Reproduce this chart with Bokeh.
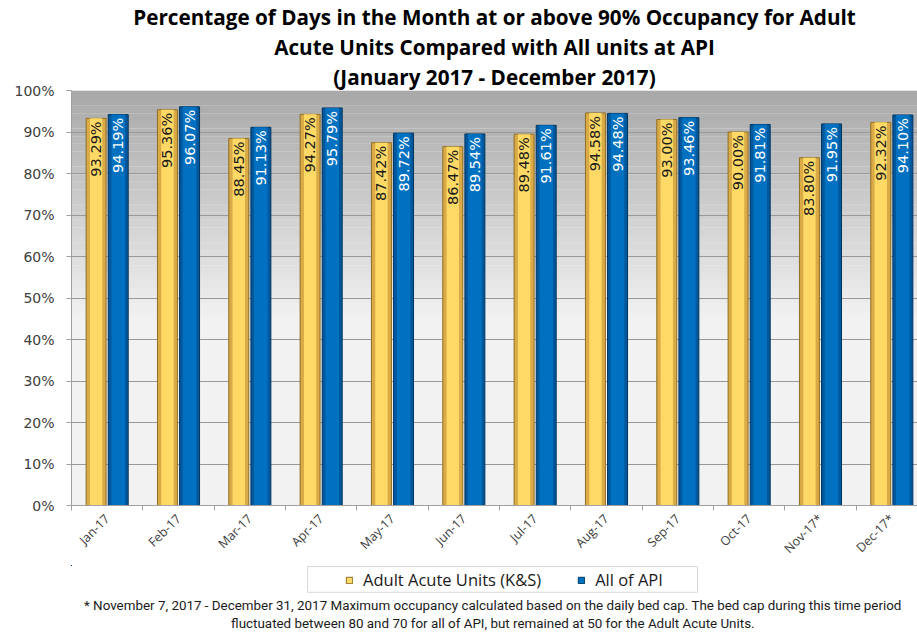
import math
from bokeh.plotting import figure
from bokeh.layouts import column
from bokeh.core.properties import value
from bokeh.models import (ColumnDataSource, Range1d, NumeralTickFormatter,
                          LabelSet, Title, BoxAnnotation, FixedTicker, Legend, LegendItem)
from bokeh.transform import dodge
from bokeh.embed import file_html
from bokeh.resources import INLINE

# ---- data ----
months = ["Jan-17", "Feb-17", "Mar-17", "Apr-17", "May-17", "Jun-17",
          "Jul-17", "Aug-17", "Sep-17", "Oct-17", "Nov-17*", "Dec-17*"]
adult_acute = [93.29, 95.36, 88.45, 94.27, 87.42, 86.47, 89.48, 94.58, 93.00, 90.00, 83.80, 92.32]
all_api = [94.19, 96.07, 91.13, 95.79, 89.72, 89.54, 91.61, 94.48, 93.46, 91.81, 91.95, 94.10]
y_ticks = [0.0, 0.1, 0.2, 0.3, 0.4, 0.5, 0.6, 0.7, 0.8, 0.9, 1.0]
series_names = ["Adult Acute Units (K&S)", "All of API"]

title_lines = ["Percentage of Days in the Month at or above 90% Occupancy for Adult",
               "Acute Units Compared with All units at API",
               "(January 2017 - December 2017)"]
foot_lines = ["* November 7, 2017 - December 31, 2017 Maximum occupancy calculated based on the daily bed cap.  The bed cap during this time period",
              "fluctuated between  80 and 70 for all of API, but remained at 50 for the Adult Acute Units."]

YEL_EDGE, YEL_LINE, YEL_HI = "#D9AA45", "#8F6F25", "#FFD966"
BLU_EDGE, BLU_LINE, BLU_HI = "#00589C", "#003560", "#0070C0"

centers = [i + 0.5 for i in range(len(months))]
bounds = [float(i) for i in range(len(months) + 1)]

src = ColumnDataSource(dict(
    xc=centers,
    aa=[v / 100 for v in adult_acute],
    api=[v / 100 for v in all_api],
    aa_txt=[f"{v:.2f}%" for v in adult_acute],
    api_txt=[f"{v:.2f}%" for v in all_api],
))

W = 917
H1 = 565
H2 = 66

# the source chart is cropped at the right edge, so the last group is partly cut
p = figure(width=W, height=H1, x_range=Range1d(0, 11.86), y_range=Range1d(0, 1),
           output_backend="svg", toolbar_location=None,
           min_border_left=71, min_border_right=0, min_border_top=10, min_border_bottom=60)
p.background_fill_color = "#F2F2F2"
p.border_fill_color = "white"
p.outline_line_color = None

# gradient background bands
n = 30
top_c = (168, 168, 168)
bot_c = (242, 242, 242)
for i in range(n):
    b = 0.45 + 0.55 * i / n
    t = 0.45 + 0.55 * (i + 1) / n
    f = (i + 0.5) / n
    c = tuple(int(bot_c[k] + (top_c[k] - bot_c[k]) * f) for k in range(3))
    p.add_layout(BoxAnnotation(bottom=b, top=t, fill_color="#%02x%02x%02x" % c,
                               fill_alpha=1.0, line_color=None, level="image"))

bw = 0.28
off = 0.155
xa = dodge("xc", -off)
xb = dodge("xc", off)
p.vbar(x=xa, top="aa", width=bw, source=src,
       fill_color=YEL_EDGE, line_color=YEL_LINE, line_width=1)
p.vbar(x=xa, top="aa", width=bw * 0.62, source=src, fill_color=YEL_HI, line_color=None)
p.vbar(x=xb, top="api", width=bw, source=src,
       fill_color=BLU_EDGE, line_color=BLU_LINE, line_width=1)
p.vbar(x=xb, top="api", width=bw * 0.68, source=src, fill_color=BLU_HI, line_color=None)

lab1 = LabelSet(x=xa, y="aa", text="aa_txt", source=src,
                angle=math.pi / 2, text_align="right", text_baseline="middle",
                x_offset=0, y_offset=-3, text_font=value("DejaVu Sans"), text_font_size="14.5px",
                text_color="#1a1a1a")
lab2 = LabelSet(x=xb, y="api", text="api_txt", source=src,
                angle=math.pi / 2, text_align="right", text_baseline="middle",
                x_offset=0, y_offset=-3, text_font=value("DejaVu Sans"), text_font_size="14.5px",
                text_color="white")
p.add_layout(lab1)
p.add_layout(lab2)

# axes
p.yaxis.ticker = FixedTicker(ticks=y_ticks)
p.yaxis.formatter = NumeralTickFormatter(format="0%")
p.yaxis.major_label_text_font = "DejaVu Sans"
p.yaxis.major_label_text_font_size = "14px"
p.yaxis.major_label_text_color = "#404040"
p.yaxis.major_label_standoff = 12
p.yaxis.axis_line_color = "#A0A0A0"
p.yaxis.major_tick_line_color = "#A0A0A0"
p.yaxis.major_tick_out = 5
p.yaxis.major_tick_in = 0
p.yaxis.minor_tick_line_color = None

p.xaxis.ticker = FixedTicker(ticks=centers, minor_ticks=bounds)
p.xaxis.major_label_overrides = {c: m for c, m in zip(centers, months)}
p.xaxis.major_label_orientation = math.pi / 4
p.xaxis.major_label_text_font = "Open Sans"
p.xaxis.major_label_text_font_size = "12.5px"
p.xaxis.major_label_text_color = "#404040"
p.xaxis.major_label_standoff = 6
p.xaxis.axis_line_color = "#A0A0A0"
p.xaxis.major_tick_line_color = None
p.xaxis.major_tick_out = 0
p.xaxis.major_tick_in = 0
p.xaxis.minor_tick_line_color = "#A0A0A0"
p.xaxis.minor_tick_out = 5
p.xaxis.minor_tick_in = 0

p.xgrid.grid_line_color = None
p.ygrid.grid_line_color = "#999999"
p.ygrid.grid_line_width = 1

# titles (above, added closest first)
for line in reversed(title_lines):
    p.add_layout(Title(text=line, align="center", text_font="Open Sans", text_font_size="20.7px",
                       text_font_style="bold", text_color="black", standoff=0), "above")

# ---- second strip: legend + footnote (frame aligns with the chart frame above) ----
q = figure(width=W, height=H2, x_range=Range1d(71, W), y_range=Range1d(593, H1),
           output_backend="svg", toolbar_location=None,
           min_border_left=0, min_border_right=0, min_border_top=0, min_border_bottom=0)
q.xaxis.visible = False
q.yaxis.visible = False
q.grid.visible = False
q.outline_line_color = None
q.background_fill_color = "white"
q.border_fill_color = "white"

# legend swatch renderers (same data, lying outside this strip's visible range)
d1 = q.vbar(x="aa", top="aa", width=0.01, source=src, fill_color=YEL_HI, line_color=YEL_LINE)
d2 = q.vbar(x="api", top="api", width=0.01, source=src, fill_color=BLU_HI, line_color=BLU_LINE)

q.add_layout(BoxAnnotation(left=307, right=697, top=566, bottom=590, fill_color="white",
                           fill_alpha=1, line_color="#808080", line_width=1))
leg = Legend(items=[LegendItem(label=series_names[0], renderers=[d1]),
                    LegendItem(label=series_names[1], renderers=[d2])],
             orientation="horizontal", location=(274, 4))
leg.label_text_font = "Open Sans"
leg.label_text_font_size = "16.5px"
leg.label_text_color = "#1a1a1a"
leg.glyph_width = 8
leg.glyph_height = 8
leg.label_standoff = 10
leg.spacing = 36
leg.border_line_color = None
leg.background_fill_alpha = 0
leg.padding = 2
leg.margin = 0
q.add_layout(leg, "center")

# footnote lines (below, added closest first)
for line in foot_lines:
    q.add_layout(Title(text=line, align="center", text_font="Roboto", text_font_size="13.4px",
                       text_font_style="normal", text_color="#1a1a1a", standoff=1), "below")

layout = column(p, q, spacing=0)
open("out.html", "w").write(file_html(layout, INLINE))
